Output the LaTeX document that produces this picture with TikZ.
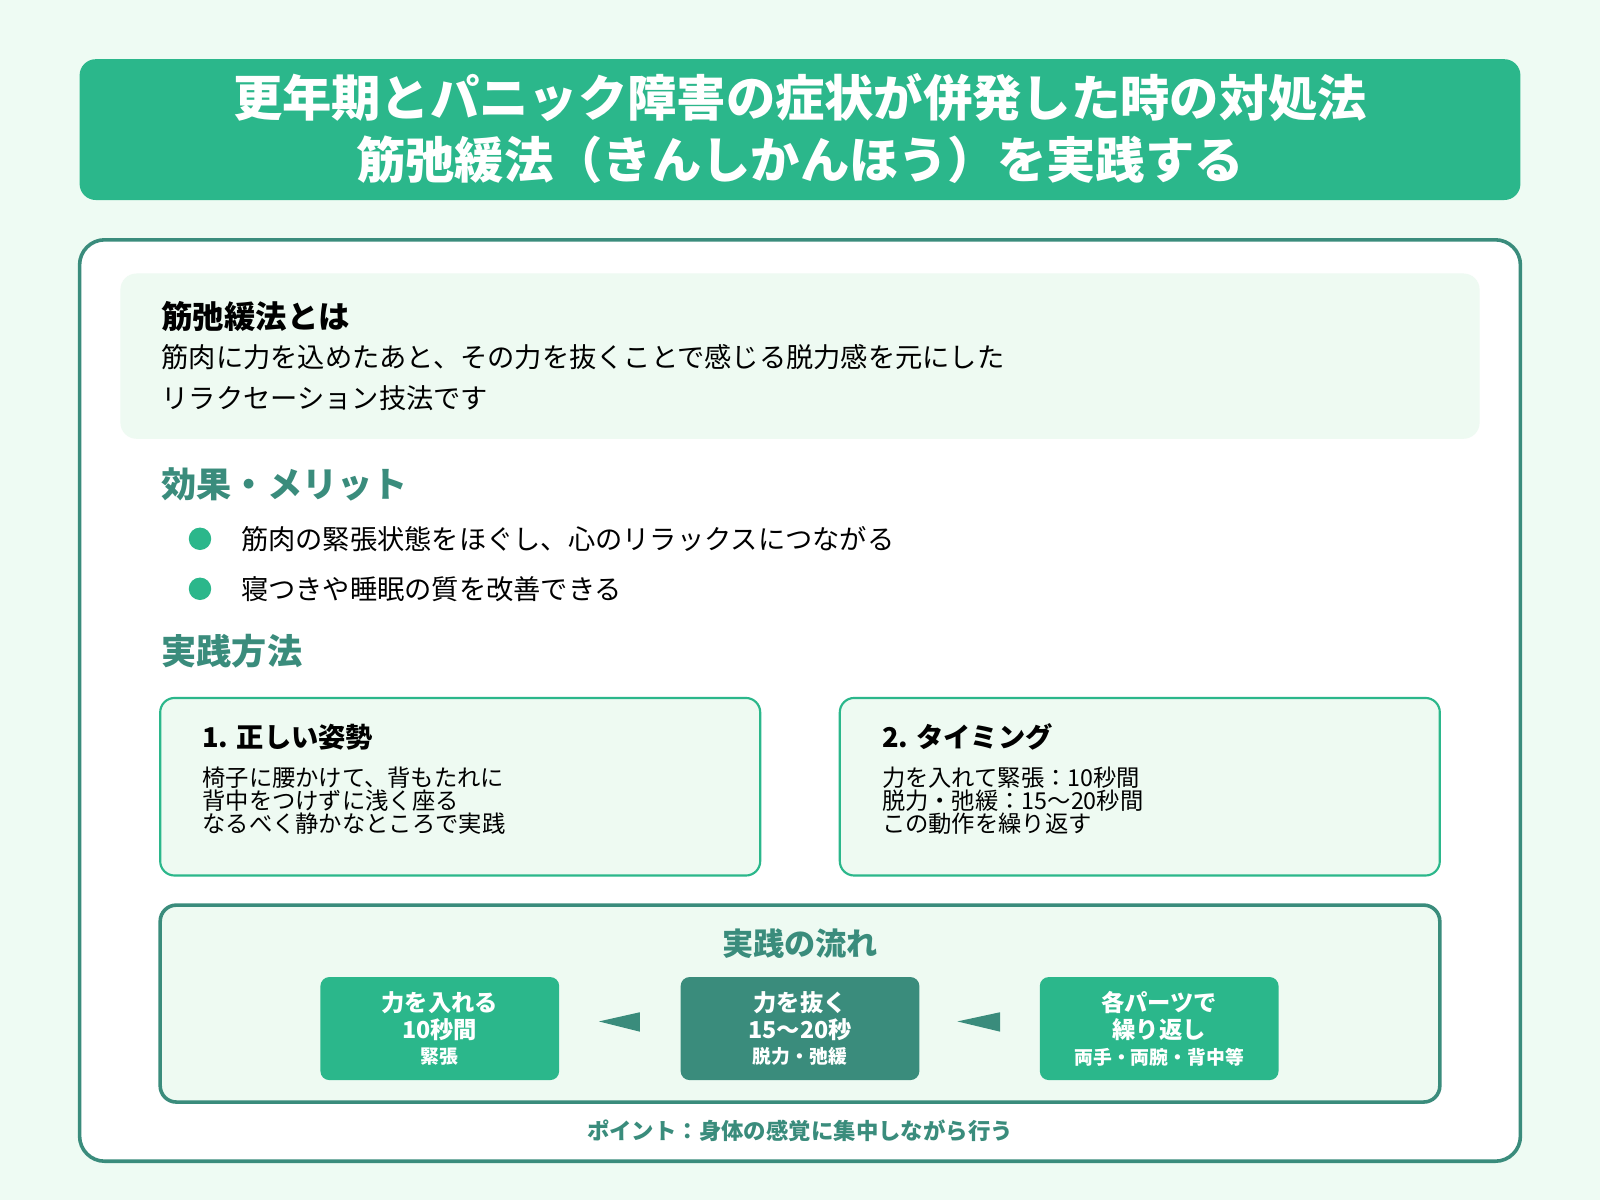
\documentclass[tikz,border=0pt]{standalone}
\usepackage{fontspec}
\setmainfont{Noto Sans CJK JP}
\usetikzlibrary{positioning}
\definecolor{bgmint}{HTML}{EEFBF3}
\definecolor{boxmint}{HTML}{EEFAF2}
\definecolor{accent}{HTML}{2BB78B}
\definecolor{teal}{HTML}{3A8C7C}
\newcommand{\fs}[1]{\fontsize{#1}{#1}\selectfont}
\tikzset{
  heading/.style={anchor=west,inner sep=0pt,font=\fs{19.6pt}\bfseries,text=teal},
  bodyline/.style={anchor=west,inner sep=0pt,font=\fs{15.2pt},align=left},
  methodbox/.style={draw=accent,line width=1.2pt,fill=boxmint,rounded corners=8pt},
  flowstep/.style={rounded corners=5pt,minimum width=4.68cm,minimum height=2.02cm,
    inner sep=0pt,text=white,align=center,font=\bfseries},
  flowtip/.style={fill=teal},
}
\begin{document}
\begin{tikzpicture}[x=0.02cm,y=-0.02cm]
  \useasboundingbox[fill=bgmint] (0,0) rectangle (1568,1176);
  % Title
  \fill[accent,rounded corners=9pt] (78,58) rectangle (1490,196);
  \node[inner sep=0pt,text=white,font=\fs{27.5pt}\bfseries,align=center] (title) at (784,126)
       {更年期とパニック障害の症状が併発した時の対処法\\[0.25cm]筋弛緩法（きんしかんほう）を実践する};

  % Main card
  \draw[teal,line width=2pt,fill=white,rounded corners=14pt] (78,235) rectangle (1490,1138);
  \fill[boxmint,rounded corners=9pt] (118,268) rectangle (1450,430);
  \node[anchor=west,inner sep=0pt,font=\fs{17.5pt}\bfseries] (defhead) at (158,310) {筋弛緩法とは};
  \node[bodyline] (def1) at (158,350) {筋肉に力を込めたあと、その力を抜くことで感じる脱力感を元にした};
  \node[bodyline] (def2) at (158,390) {リラクセーション技法です};

  % Effects
  \node[heading] (effect) at (158,475) {効果・メリット};
  \fill[accent] (196,528) circle (11);
  \node[bodyline] (eff1) at (236,528) {筋肉の緊張状態をほぐし、心のリラックスにつながる};
  \fill[accent] (196,577) circle (11);
  \node[bodyline] (eff2) at (236,577) {寝つきや睡眠の質を改善できる};

  % Method
  \node[heading] (method) at (158,638) {実践方法};
  \draw[methodbox] (157,684) rectangle (745,858);
  \node[anchor=west,inner sep=0pt,font=\fs{15.2pt}\bfseries] (m1head) at (198,722) {\textit{1.} 正しい姿勢};
  \node[anchor=north west,inner sep=0pt,font=\fs{13pt},align=left] (m1text) at (198,751)
       {椅子に腰かけて、背もたれに\\背中をつけずに浅く座る\\なるべく静かなところで実践};
  \draw[methodbox] (823,684) rectangle (1411,858);
  \node[anchor=west,inner sep=0pt,font=\fs{15.2pt}\bfseries] (m2head) at (864,722) {\textit{2.} タイミング};
  \node[anchor=north west,inner sep=0pt,font=\fs{13pt},align=left] (m2text) at (864,751)
       {力を入れて緊張：10秒間\\脱力・弛緩：15〜20秒間\\この動作を繰り返す};

  % Flow
  \draw[teal,line width=2pt,fill=boxmint,rounded corners=9pt] (157,887) rectangle (1411,1080);
  \node[inner sep=0pt,font=\fs{17.4pt}\bfseries,text=teal] (flowhead) at (784,925) {実践の流れ};
  \node[flowstep,fill=accent] (tense) at (431,1008)
       {{\fs{13pt}力を入れる}\\[2pt]{\fs{13pt}\itshape 10秒間}\\[2pt]{\fs{10.5pt}緊張}};
  \node[flowstep,fill=teal] (relax) at (784,1008)
       {{\fs{13pt}力を抜く}\\[2pt]{\fs{13pt}\itshape 15〜20秒}\\[2pt]{\fs{10.5pt}脱力・弛緩}};
  \node[flowstep,fill=accent] (repeat) at (1136,1008)
       {{\fs{13pt}各パーツで}\\[2pt]{\fs{13pt}繰り返し}\\[2pt]{\fs{10.5pt}両手・両腕・背中等}};
  \fill[flowtip] ([xshift=22]tense.east |- 0,1001) -- (627,992) -- (627,1011) -- cycle;
  \fill[flowtip] ([xshift=21]relax.east |- 0,1001) -- (980,992) -- (980,1011) -- cycle;

  \node[inner sep=0pt,font=\fs{12.5pt}\bfseries,text=teal] (point) at (784,1108)
       {ポイント：身体の感覚に集中しながら行う};
\end{tikzpicture}
\end{document}
